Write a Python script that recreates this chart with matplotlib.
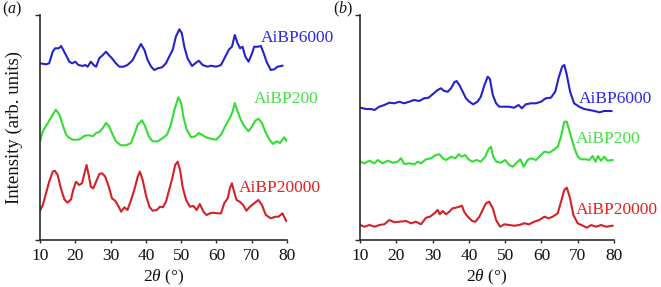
import matplotlib
matplotlib.use("Agg")
import matplotlib.pyplot as plt

plt.rcParams['font.family'] = ['Liberation Serif', 'DejaVu Serif']
plt.rcParams['mathtext.fontset'] = 'custom'
plt.rcParams['mathtext.rm'] = 'Liberation Serif'
plt.rcParams['mathtext.it'] = 'Liberation Serif:italic'

# ---------------- data (2theta in degrees, offset intensity in arb. units) ----------------
a_6000_x = [10.0, 11.7, 12.6, 13.6, 14.3, 15.3, 16.0, 16.6, 17.6, 18.3, 19.1, 20.0, 20.9, 22.1, 22.8,
            23.5, 24.4, 25.2, 25.9, 26.8, 27.8, 28.7, 29.5, 30.4, 31.5, 32.5, 33.6, 34.8, 36.3, 37.2,
            38.6, 39.6, 40.5, 41.5, 42.4, 43.4, 44.6, 45.7, 46.6, 47.6, 48.5, 49.5, 50.2, 50.9, 51.8,
            53.1, 54.0, 55.0, 56.1, 57.5, 58.4, 59.9, 61.3, 62.5, 63.6, 64.4, 65.2, 66.0, 66.7, 67.4,
            68.2, 69.1, 70.1, 70.7, 71.7, 72.6, 73.4, 74.2, 75.4, 76.4, 77.3, 78.7]
a_6000_y = [176.7, 175.7, 176.7, 188.3, 191.7, 191.7, 194.0, 190.0, 183.3, 178.3, 176.7, 178.3, 175.0,
            174.0, 175.0, 173.3, 178.3, 175.0, 173.3, 181.7, 185.0, 188.3, 185.0, 181.7, 176.7, 173.3,
            173.3, 175.0, 180.0, 186.7, 196.0, 190.0, 180.0, 173.3, 170.0, 171.7, 172.7, 176.7, 183.3,
            190.0, 203.3, 210.7, 206.7, 193.3, 181.7, 174.0, 176.7, 179.3, 175.0, 173.3, 174.3, 173.3,
            175.0, 183.3, 190.7, 193.3, 205.0, 196.7, 191.7, 193.3, 183.3, 178.3, 186.7, 193.3, 193.3,
            194.0, 186.7, 178.3, 170.0, 170.7, 173.3, 174.3]

a_200_x = [10.0, 10.8, 12.2, 13.6, 14.5, 15.5, 16.4, 17.4, 18.3, 19.3, 20.7, 21.6, 22.6, 24.0, 25.0,
           25.9, 26.8, 27.8, 28.7, 29.6, 30.6, 31.5, 32.9, 34.4, 35.8, 36.7, 37.7, 38.9, 39.8, 40.8,
           41.9, 43.4, 44.8, 46.0, 47.1, 48.1, 49.2, 50.0, 50.7, 51.6, 52.8, 54.0, 55.0, 55.9, 57.0,
           58.4, 59.9, 61.3, 62.7, 63.9, 64.6, 65.2, 66.0, 66.9, 67.9, 69.1, 70.1, 71.0, 71.9, 72.9,
           73.8, 75.0, 76.1, 77.0, 78.0, 79.2, 80.0]
a_200_y = [98.7, 108.7, 117.0, 125.3, 130.3, 125.3, 115.3, 105.3, 102.0, 100.3, 100.3, 101.3, 104.3,
           104.7, 103.7, 107.0, 108.0, 112.0, 117.0, 113.7, 105.3, 98.7, 94.7, 94.7, 97.0, 105.3, 115.3,
           119.7, 113.7, 103.7, 98.7, 98.7, 102.0, 105.3, 115.3, 130.3, 142.7, 137.0, 122.0, 110.3,
           102.7, 103.7, 107.0, 105.3, 102.7, 101.3, 100.3, 105.3, 115.3, 122.7, 128.7, 137.0, 128.7,
           120.3, 113.7, 108.7, 113.7, 119.3, 121.3, 117.0, 108.7, 100.3, 96.0, 98.7, 97.0, 102.7, 98.7]

a_20000_x = [10.0, 10.8, 11.7, 12.6, 13.6, 14.2, 15.0, 15.9, 16.9, 17.8, 18.8, 19.4, 20.2, 21.1, 21.9,
             22.6, 23.2, 23.8, 24.4, 25.1, 25.9, 26.8, 27.6, 28.5, 29.5, 30.4, 31.3, 32.3, 33.0, 33.9,
             34.8, 35.8, 36.7, 37.7, 38.3, 39.1, 40.0, 41.0, 41.9, 43.1, 44.0, 44.8, 45.7, 46.6, 47.6,
             48.3, 49.0, 49.7, 50.4, 51.4, 52.5, 53.5, 54.4, 55.3, 56.3, 57.2, 58.2, 59.1, 60.3, 61.3,
             62.2, 63.2, 63.8, 64.4, 65.0, 65.7, 66.6, 67.6, 68.5, 69.5, 70.7, 71.9, 72.9, 74.0, 75.4,
             76.7, 77.6, 78.7, 79.8]
a_20000_y = [29.3, 35.0, 46.7, 58.3, 68.3, 69.3, 65.0, 51.7, 40.7, 37.3, 40.7, 50.0, 58.3, 55.0, 56.7,
             66.7, 75.0, 65.0, 53.3, 51.7, 58.3, 66.0, 66.7, 63.3, 53.3, 41.7, 39.3, 33.3, 28.3, 32.7,
             30.0, 40.0, 50.0, 63.3, 68.3, 60.0, 45.0, 33.3, 29.3, 30.0, 33.3, 32.7, 38.3, 50.0, 63.3,
             75.0, 78.3, 70.0, 53.3, 40.0, 33.3, 34.0, 30.0, 36.0, 28.3, 25.0, 26.7, 27.3, 26.7, 26.7,
             36.7, 41.7, 51.7, 56.7, 48.3, 40.0, 38.3, 35.0, 29.3, 33.3, 36.7, 40.0, 35.0, 25.0, 21.7,
             23.3, 23.3, 26.7, 19.0]

b_6000_x = [10.1, 11.7, 13.0, 14.0, 15.3, 16.7, 18.1, 19.5, 20.8, 22.2, 23.6, 24.9, 26.3, 27.7, 28.9,
            30.0, 31.4, 32.3, 33.2, 34.2, 35.1, 36.0, 36.6, 37.4, 38.3, 39.2, 40.1, 41.2, 42.4, 43.3,
            44.3, 45.2, 45.8, 46.6, 47.5, 48.4, 49.8, 51.1, 52.5, 53.7, 54.6, 55.7, 57.1, 58.5, 59.9,
            61.2, 62.6, 63.8, 64.7, 65.7, 66.3, 66.9, 67.9, 69.0, 70.4, 71.8, 73.2, 74.6, 76.0, 77.3,
            79.3]
b_6000_y = [132.3, 131.0, 131.0, 130.0, 133.3, 135.0, 137.3, 136.7, 138.3, 136.7, 138.3, 140.0, 139.0,
            141.7, 142.3, 145.7, 150.0, 151.7, 149.0, 148.3, 151.7, 157.7, 159.0, 155.0, 148.3, 141.7,
            138.3, 135.7, 138.3, 143.3, 155.0, 163.3, 161.0, 145.0, 136.7, 133.3, 133.3, 133.3, 132.3,
            135.0, 131.7, 135.7, 136.7, 136.7, 138.3, 141.7, 142.3, 148.3, 161.7, 173.3, 175.0, 166.7,
            148.3, 136.7, 133.3, 131.0, 130.0, 129.0, 127.7, 129.0, 129.0]

b_200_x = [10.1, 11.2, 12.6, 14.0, 14.9, 16.2, 17.6, 19.0, 20.4, 21.3, 22.2, 23.6, 25.0, 25.9, 26.8,
           28.2, 29.6, 30.9, 31.9, 32.8, 33.7, 35.1, 36.3, 37.2, 38.1, 39.0, 39.9, 41.0, 42.1, 43.3,
           44.5, 45.4, 46.1, 46.7, 47.6, 48.8, 50.0, 51.1, 52.1, 53.0, 54.2, 55.1, 56.2, 57.1, 58.5,
           59.9, 60.8, 62.2, 63.3, 64.5, 65.4, 66.3, 67.0, 67.9, 69.1, 70.0, 70.9, 72.3, 73.2, 74.1,
           74.9, 75.6, 76.4, 77.3, 78.2, 79.6]
b_200_y = [78.3, 76.7, 79.3, 76.7, 80.0, 76.7, 79.3, 77.3, 78.3, 81.7, 76.0, 76.7, 75.7, 78.3, 76.7,
           80.7, 81.7, 85.0, 85.7, 81.7, 80.0, 83.3, 81.7, 85.7, 83.3, 85.0, 80.7, 78.3, 80.0, 78.3,
           83.3, 90.7, 93.3, 83.3, 78.3, 77.3, 80.0, 75.0, 73.3, 76.7, 80.7, 73.3, 80.0, 81.7, 80.0,
           85.0, 88.3, 87.3, 90.0, 93.3, 103.3, 118.3, 118.3, 106.7, 91.7, 83.3, 80.7, 80.7, 80.0, 84.0,
           78.3, 84.0, 79.3, 83.3, 79.3, 80.0]

b_20000_x = [10.1, 11.2, 12.6, 14.0, 15.3, 16.7, 18.1, 19.5, 20.8, 22.7, 24.1, 25.4, 26.8, 28.2, 29.3,
             30.5, 31.4, 32.0, 32.8, 33.7, 34.6, 35.5, 36.4, 37.4, 38.1, 38.7, 39.7, 40.9, 41.8, 42.9,
             43.8, 44.7, 45.6, 46.6, 47.5, 48.6, 49.8, 51.1, 52.5, 53.9, 55.3, 56.6, 58.0, 59.4, 60.8,
             62.0, 63.1, 64.5, 65.4, 66.3, 67.0, 67.9, 68.8, 70.0, 71.4, 72.5, 73.7, 75.1, 76.4, 77.8,
             79.6]
b_20000_y = [15.0, 13.3, 15.0, 13.3, 15.0, 15.7, 20.0, 17.7, 18.3, 19.0, 16.7, 18.3, 15.7, 22.3, 23.3,
             26.7, 30.0, 25.7, 29.0, 25.7, 28.3, 31.7, 32.3, 33.3, 34.3, 28.3, 23.3, 19.0, 18.3, 23.3,
             30.0, 36.7, 38.3, 31.7, 20.0, 13.3, 15.7, 15.0, 14.3, 15.0, 16.7, 15.7, 18.3, 20.0, 23.3,
             21.7, 23.3, 26.7, 38.3, 50.0, 52.3, 41.7, 25.0, 16.7, 14.3, 12.3, 15.0, 13.3, 15.0, 13.3,
             14.3]

series_names = ['AiBP6000', 'AiBP200', 'AiBP20000']
x_ticks = [10, 20, 30, 40, 50, 60, 70, 80]

BLUE = '#2323cc'
GREEN = '#33dd33'
RED = '#d42128'
TBLUE = '#2a2ae6'
TGREEN = '#44e044'
TRED = '#e82020'

fig = plt.figure(figsize=(6.61, 2.87), dpi=100)
W, H = 661.0, 287.0
ax_a = fig.add_axes([40 / W, (H - 240) / H, 247 / W, 225 / H])
ax_b = fig.add_axes([360 / W, (H - 240) / H, 254 / W, 225 / H])

panel_a = [(a_6000_x, a_6000_y, BLUE), (a_200_x, a_200_y, GREEN), (a_20000_x, a_20000_y, RED)]
panel_b = [(b_6000_x, b_6000_y, BLUE), (b_200_x, b_200_y, GREEN), (b_20000_x, b_20000_y, RED)]

for ax, panel in ((ax_a, panel_a), (ax_b, panel_b)):
    for xs, ys, c in panel:
        ax.plot(xs, ys, color=c, lw=1.5, solid_joinstyle='round')
    ax.set_xlim(10, 80)
    ax.set_ylim(0, 225)
    for s in ('top', 'right'):
        ax.spines[s].set_visible(False)
    for s in ('left', 'bottom'):
        ax.spines[s].set_color('#2b2b2b')
        ax.spines[s].set_linewidth(1.2)
    ax.set_xticks(x_ticks)
    ax.set_xticklabels([str(t) for t in x_ticks])
    ax.set_yticks([0, 225])
    ax.set_yticklabels([])
    ax.tick_params(axis='x', direction='out', length=2.5, width=1.0, color='#2b2b2b',
                   labelsize=12.5, pad=3, labelcolor='#111111')
    ax.tick_params(axis='y', direction='out', length=3.5, width=1.0, color='#2b2b2b')
    ax.set_xlabel(r'2$\it{\theta}$ (°)', fontsize=12.5, color='#111111', labelpad=3)
    ax.patch.set_alpha(0)

ax_a.set_ylabel('Intensity (arb. units)', fontsize=13.5, color='#111111', labelpad=5)

# series labels (panel a)
ax_a.text(72.5, 202, series_names[0], color=TBLUE, fontsize=12.5, va='center', ha='left')
ax_a.text(70.5, 141, series_names[1], color=TGREEN, fontsize=12.5, va='center', ha='left')
ax_a.text(66.3, 52, series_names[2], color=TRED, fontsize=12.5, va='center', ha='left')
# series labels (panel b)
ax_b.text(70.2, 141, series_names[0], color=TBLUE, fontsize=12.5, va='center', ha='left')
ax_b.text(69.4, 101, series_names[1], color=TGREEN, fontsize=12.5, va='center', ha='left')
ax_b.text(69.4, 30, series_names[2], color=TRED, fontsize=12.5, va='center', ha='left')

fig.text(2 / W, 1 - 9 / H, r'($\it{a}$)', fontsize=11.5, va='center', ha='left', color='#111111')
fig.text(333 / W, 1 - 9 / H, r'($\it{b}$)', fontsize=11.5, va='center', ha='left', color='#111111')

fig.savefig('out.png', dpi=100)
